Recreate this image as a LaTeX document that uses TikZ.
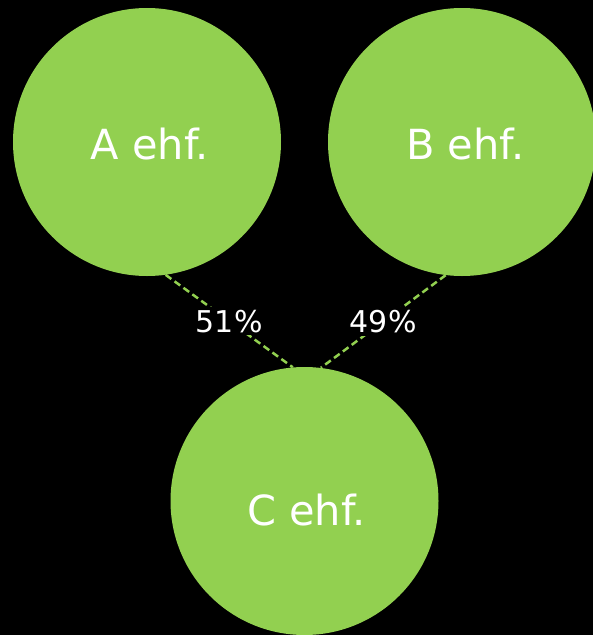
\documentclass[tikz,border=0pt]{standalone}
\usepackage{fontspec}
\setmainfont{DejaVu Sans}
\definecolor{grn}{HTML}{92D050}
\begin{document}
\begin{tikzpicture}[x=1pt,y=-1pt,
  ent/.style={circle,fill=grn,minimum size=268pt,inner sep=0pt},
  lbl/.style={text=white,font=\fontsize{41.5}{48}\selectfont},
  conn/.style={grn,line width=2.5pt,dash pattern=on 7pt off 4pt},
  pct/.style={fill=black,text=white,inner sep=3pt,font=\fontsize{30}{34}\selectfont}]
\fill[black] (0,0) rectangle (593,635);
\useasboundingbox (0,0) rectangle (593,635);
\node[ent] (A) at (147,142) {};
\node[ent] (B) at (462,142) {};
\node[ent] (C) at (304.5,501) {};
\node[lbl] (At) at (150,144) {A ehf.};
\node[lbl] (Bt) at (465.5,144) {B ehf.};
\node[lbl] (Ct) at (306.5,510) {C ehf.};
\draw[conn] (A.-82) -- node[pct] (p1) {51\%} (C.95);
\draw[conn] (B.-97) -- node[pct] (p2) {49\%} (C.83);
\end{tikzpicture}
\end{document}
